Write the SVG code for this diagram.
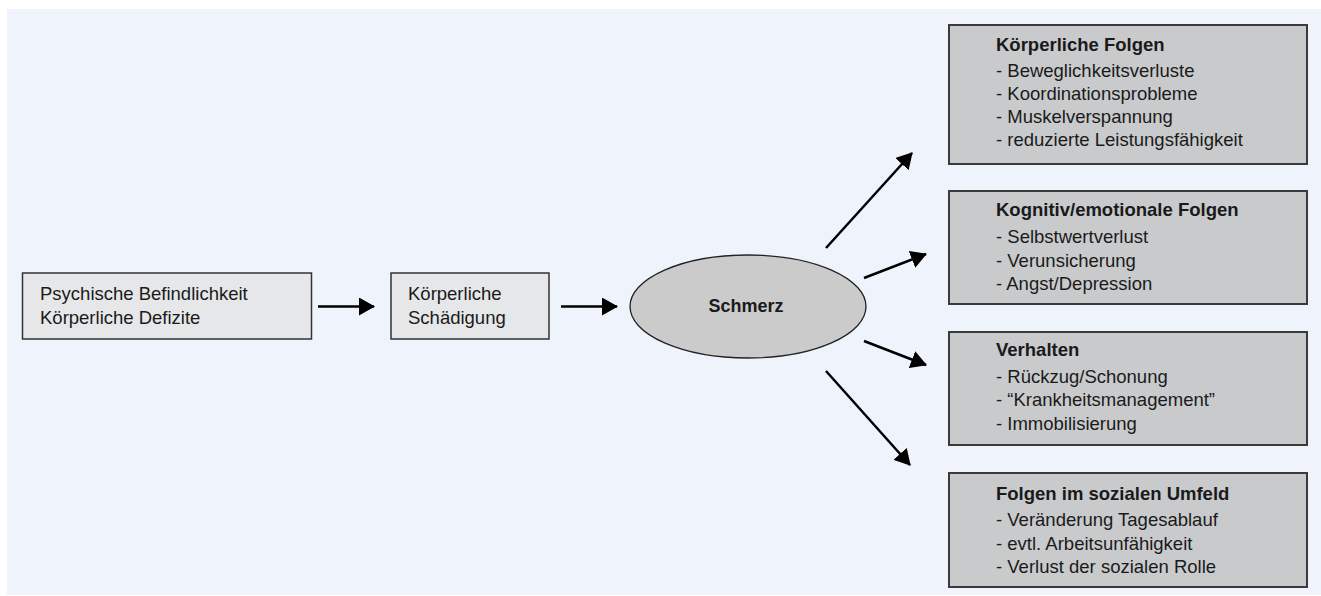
<svg xmlns="http://www.w3.org/2000/svg" width="1321" height="596" viewBox="0 0 1321 596">
<style>
text{font-family:"Liberation Sans",Arial,sans-serif;font-size:18.5px;fill:#1a1a1a}
.b{font-weight:bold}
.light{fill:#e6e7e8;stroke:#333;stroke-width:1.5}
.dark{fill:#c9cacc;stroke:#3a3a3a;stroke-width:2}
.arr{stroke:#000;stroke-width:2.5;fill:none;marker-end:url(#ah)}
</style>
<defs>
<marker id="ah" markerUnits="userSpaceOnUse" markerWidth="16" markerHeight="18" refX="15" refY="9" orient="auto">
<path d="M0,0 L16,9 L0,18 z" fill="#000"/>
</marker>
</defs>
<rect x="0" y="0" width="1321" height="596" fill="#fff"/>
<rect x="7" y="9" width="1314" height="586" fill="#eff3fc"/>
<g id="box1">
<rect class="light" x="22.5" y="273" width="289" height="66"/>
<text x="40" y="300">Psychische Befindlichkeit</text>
<text x="40" y="324">Körperliche Defizite</text>
</g>
<g id="box2">
<rect class="light" x="391" y="273" width="158" height="66"/>
<text x="408" y="300">Körperliche</text>
<text x="408" y="324">Schädigung</text>
</g>
<g id="schmerz">
<ellipse cx="748" cy="306.5" rx="118" ry="51.5" fill="#cbcbcc" stroke="#222" stroke-width="1.3"/>
<text class="b" x="746" y="312" text-anchor="middle" style="font-size:18px">Schmerz</text>
</g>
<g id="koerperlicheFolgen">
<rect class="dark" x="949" y="25" width="358" height="139"/>
<text class="b" x="996" y="50.7">Körperliche Folgen</text>
<text x="996" y="77.3">- Beweglichkeitsverluste</text>
<text x="996" y="100.3">- Koordinationsprobleme</text>
<text x="996" y="123.3">- Muskelverspannung</text>
<text x="996" y="146.3">- reduzierte Leistungsfähigkeit</text>
</g>
<g id="kognitivFolgen">
<rect class="dark" x="949" y="191" width="358" height="113"/>
<text class="b" x="996" y="216">Kognitiv/emotionale Folgen</text>
<text x="996" y="243">- Selbstwertverlust</text>
<text x="996" y="266.5">- Verunsicherung</text>
<text x="996" y="290">- Angst/Depression</text>
</g>
<g id="verhalten">
<rect class="dark" x="949" y="332" width="358" height="113"/>
<text class="b" x="996" y="356.3">Verhalten</text>
<text x="996" y="383">- Rückzug/Schonung</text>
<text x="996" y="406.3">- “Krankheitsmanagement”</text>
<text x="996" y="429.6">- Immobilisierung</text>
</g>
<g id="sozialFolgen">
<rect class="dark" x="949" y="473" width="358" height="114"/>
<text class="b" x="996" y="499.5">Folgen im sozialen Umfeld</text>
<text x="996" y="526.2">- Veränderung Tagesablauf</text>
<text x="996" y="549.7">- evtl. Arbeitsunfähigkeit</text>
<text x="996" y="573.2">- Verlust der sozialen Rolle</text>
</g>
<g id="connectors">
<line class="arr" x1="318" y1="306.5" x2="374" y2="306.5"/>
<line class="arr" x1="561" y1="306.5" x2="617" y2="306.5"/>
<line class="arr" x1="826" y1="248" x2="912" y2="153"/>
<line class="arr" x1="864" y1="278" x2="926" y2="254"/>
<line class="arr" x1="864" y1="341" x2="926" y2="365"/>
<line class="arr" x1="826" y1="371" x2="910" y2="465"/>
</g>
</svg>
